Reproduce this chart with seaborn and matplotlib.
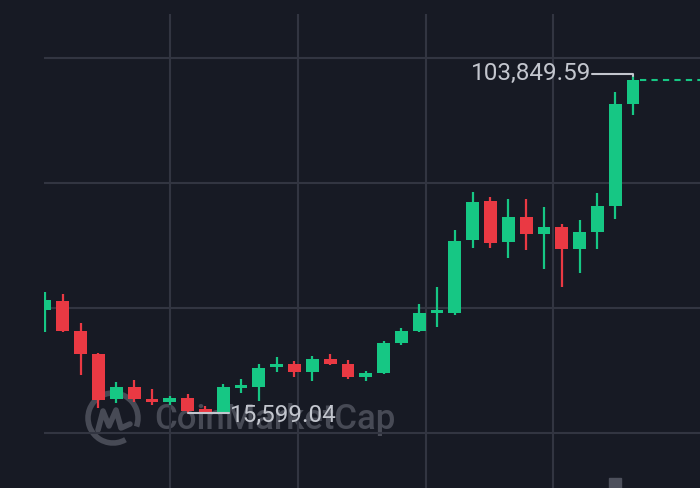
import numpy as np
import matplotlib
matplotlib.use("Agg")
import matplotlib.pyplot as plt
from matplotlib.patches import Arc, Rectangle
import seaborn as sns

# Monthly candles, Mar 2022 - Dec 2024
months = ['2022-03', '2022-04', '2022-05', '2022-06', '2022-07', '2022-08', '2022-09',
          '2022-10', '2022-11', '2022-12', '2023-01', '2023-02', '2023-03', '2023-04',
          '2023-05', '2023-06', '2023-07', '2023-08', '2023-09', '2023-10', '2023-11',
          '2023-12', '2024-01', '2024-02', '2024-03', '2024-04', '2024-05', '2024-06',
          '2024-07', '2024-08', '2024-09', '2024-10', '2024-11', '2024-12']
opens = [42586, 44944, 37084, 31058, 19268, 22490, 19006, 18482, 19530, 16386, 15679, 22071,
         22490, 27731, 28438, 26420, 29748, 28438, 25110, 26158, 33861, 37084, 41721, 41800,
         60926, 71144, 60324, 67031, 62420, 64254, 58568, 62944, 69913, 96558]
highs = [47302, 46778, 39257, 31300, 23722, 24246, 21888, 20133, 20578, 17434, 23198, 24508,
         28438, 30272, 29224, 30613, 31058, 29486, 26682, 34464, 37791, 44158, 48533, 63546,
         73581, 72271, 71668, 71668, 69651, 65118, 66166, 73319, 99623, 103849.59]
lows = [36822, 36900, 25556, 16910, 18220, 18560, 17696, 17696, 15599.04, 15700, 15650, 20840,
        18822, 26342, 25110, 24062, 28176, 24508, 24062, 25896, 33416, 36901, 38053, 41200,
        58909, 58751, 56131, 58306, 53250, 48691, 52202, 58568, 66428, 93676]
closes = [45206, 37084, 31058, 19006, 22490, 19268, 18482, 19530, 16202, 15750, 22412, 22752,
          27469, 28438, 26420, 29748, 28438, 24953, 26158, 33861, 37084, 41721, 42324, 60743,
          70961, 60061, 67031, 62420, 64254, 58568, 63101, 69913, 96558, 102846]

grid_prices = [10360, 43110, 75860, 108610]
grid_x = [7.015, 14.198, 21.38, 28.507]

bg = '#171a24'
grid_col = '#323541'
up = '#16c784'
down = '#ea3943'
label_col = '#c3c6ce'
mark_col = '#474a55'

sns.set_theme(style="dark", rc={"figure.facecolor": bg, "axes.facecolor": bg})
plt.rcParams['font.family'] = ['Roboto', 'DejaVu Sans']

fig = plt.figure(figsize=(7, 4.88), dpi=100)

# watermark layer in pixel coordinates, behind the chart
wm = fig.add_axes([0, 0, 1, 1], zorder=0)
wm.set_xlim(0, 700)
wm.set_ylim(488, 0)
wm.axis('off')
wm.patch.set_alpha(0)
wm.add_patch(Arc((113, 418), 50, 50, theta1=-300, theta2=20, color=mark_col, lw=4))
wm.plot([98, 103, 109, 116, 121, 130], [430, 411, 426, 410, 428, 424],
        color=mark_col, lw=4, solid_capstyle='round', solid_joinstyle='round')
wm.text(154, 420, 'CoinMarketCap', color=mark_col, fontsize=25, fontweight='medium',
        va='center', ha='left')
wm.add_patch(Rectangle((609, 478), 12, 12, color='#4d505c'))

ax = fig.add_axes([44 / 700, 0, 656 / 700, 474 / 488], zorder=1)
ax.patch.set_alpha(0)
x = np.arange(len(months))

for p in grid_prices:
    ax.axhline(p, color=grid_col, lw=1.5, zorder=1)
for g in grid_x:
    ax.axvline(g, color=grid_col, lw=1.5, zorder=1)

o = np.array(opens)
c = np.array(closes)
colors = [up if cc >= oo else down for oo, cc in zip(o, c)]
bottoms = np.minimum(o, c)
heights = np.maximum(np.abs(c - o), 800)
ax.vlines(x, lows, highs, colors=colors, lw=1.6, zorder=3)
ax.bar(x, heights, bottom=bottoms, width=0.72, color=colors, edgecolor='none',
       linewidth=0, zorder=4)

# high / low annotations
hi = int(np.argmax(highs))
lo = int(np.argmin(lows))
ax.plot([30.7, hi, hi], [104400, 104400, highs[hi]], color=label_col, lw=1.5, zorder=5)
ax.text(30.65, 104500, f'{highs[hi]:,.2f}', color=label_col, fontsize=17.5,
        ha='right', va='center', zorder=6)
ax.plot([lo, 10.33], [lows[lo], lows[lo]], color=label_col, lw=1.5, zorder=5)
ax.text(10.38, 15000, f'{lows[lo]:,.2f}', color=label_col, fontsize=17.5,
        ha='left', va='center', zorder=6)

# last price dashed line
ax.plot([33.4, 37], [closes[-1], closes[-1]], color=up, lw=1.5, ls=(0, (3, 2.5)), zorder=5)

ax.set_xlim(-0.056, 36.757)
ax.set_ylim(-4050, 120138)
ax.set_xticks([])
ax.set_yticks([])
ax.grid(False)
sns.despine(ax=ax, left=True, bottom=True)

fig.savefig('out.png', dpi=100, facecolor=bg)
